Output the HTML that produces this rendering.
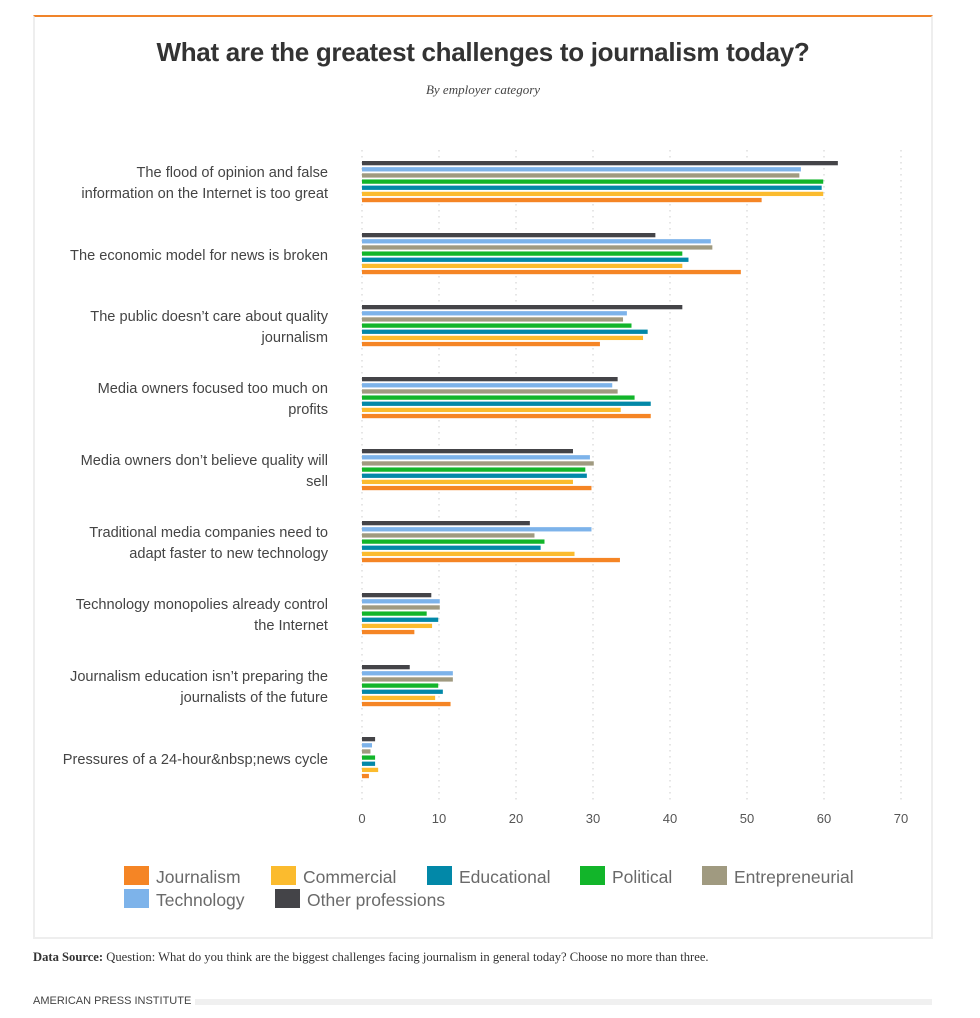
<!DOCTYPE html>
<html><head><meta charset="utf-8">
<style>
body{margin:0;width:980px;height:1018px;background:#fff;position:relative;font-family:"Liberation Sans",sans-serif;overflow:hidden}
.frame{position:absolute;left:33px;top:15px;width:896px;height:920px;border:2px solid #eee;border-top:2px solid #f0842a}
.title{position:absolute;left:0;width:966px;top:37px;text-align:center;font-size:26px;font-weight:bold;color:#333;letter-spacing:-0.3px}
.sub{position:absolute;left:0;width:966px;top:82px;text-align:center;font-family:"Liberation Serif",serif;font-style:italic;font-size:13px;color:#444}
.lab{position:absolute;right:652px;text-align:right;font-size:14.6px;line-height:21px;color:#444;white-space:nowrap}
.tick{position:absolute;top:811px;font-size:13px;color:#555;transform:translateX(-50%)}
.leg{position:absolute;font-size:17.5px;color:#6a6a6a}
.sw{position:absolute;width:25px;height:19px}
</style></head><body>
<div class="frame"></div>
<div class="title">What are the greatest challenges to journalism today?</div>
<div class="sub">By employer category</div>
<svg id="chart" width="980" height="1018" style="position:absolute;left:0;top:0"></svg>
<div id="labels"></div>
<div id="legend"></div>
<div style="position:absolute;left:33px;top:950px;font-family:'Liberation Serif',serif;font-size:12.6px;color:#333"><b>Data Source:</b> Question: What do you think are the biggest challenges facing journalism in general today? Choose no more than three.</div>
<div style="position:absolute;left:33px;top:995px;font-size:11px;color:#444">AMERICAN PRESS INSTITUTE</div>
<div style="position:absolute;left:195px;top:999px;width:737px;height:6px;background:#f0f0f0"></div>
<script>
const categories=["The flood of opinion and false|information on the Internet is too great","The economic model for news is broken","The public doesn’t care about quality|journalism","Media owners focused too much on|profits","Media owners don’t believe quality will|sell","Traditional media companies need to|adapt faster to new technology","Technology monopolies already control|the Internet","Journalism education isn’t preparing the|journalists of the future","Pressures of a 24-hour&amp;nbsp;news cycle"];
const seriesNames=["Other professions","Technology","Entrepreneurial","Political","Educational","Commercial","Journalism"];
const seriesColors=["#444448","#7db3ea","#a09a80","#12b52a","#0288a8","#fbbb2e","#f58525"];
const other=[61.8,38.1,41.6,33.2,27.4,21.8,9.0,6.2,1.7];
const technology=[57.0,45.3,34.4,32.5,29.6,29.8,10.1,11.8,1.3];
const entrepreneurial=[56.8,45.5,33.9,33.2,30.1,22.4,10.1,11.8,1.1];
const political=[59.9,41.6,35.0,35.4,29.0,23.7,8.4,9.9,1.7];
const educational=[59.7,42.4,37.1,37.5,29.2,23.2,9.9,10.5,1.7];
const commercial=[59.9,41.6,36.5,33.6,27.4,27.6,9.1,9.5,2.1];
const journalism=[51.9,49.2,30.9,37.5,29.8,33.5,6.8,11.5,0.9];
const ticks=[0,10,20,30,40,50,60,70];
const series=[other,technology,entrepreneurial,political,educational,commercial,journalism];
const x=v=>362+v*7.7;
const groupY=i=>161+i*72;
const svg=document.getElementById('chart');const NS="http://www.w3.org/2000/svg";
ticks.forEach(t=>{
  const l=document.createElementNS(NS,'line');
  
  
  l.setAttribute('x1',x(t));l.setAttribute('x2',x(t));l.setAttribute('y1',150);l.setAttribute('y2',800);
  l.setAttribute('stroke','#ccc');l.setAttribute('stroke-dasharray','1.5,4.5');
  svg.appendChild(l);
  const d=document.createElement('div');d.className='tick';d.style.left=x(t)+'px';d.textContent=t;
  
  
  document.body.appendChild(d);
});
categories.forEach((c,i)=>{
  series.forEach((s,j)=>{
    const r=document.createElementNS(NS,'rect');
    
    
    r.setAttribute('x',x(0));r.setAttribute('y',groupY(i)+j*6.15);
    r.setAttribute('width',Math.max(0,x(s[i])-x(0)));r.setAttribute('height',4.3);
    r.setAttribute('fill',seriesColors[j]);svg.appendChild(r);
  });
  const lines=c.split('|');const d=document.createElement('div');d.className='lab';
  
  
  d.innerHTML=lines.join('<br>');
  d.style.top=(groupY(i)+24-lines.length*10.5-1)+'px';
  document.getElementById('labels').appendChild(d);
});
const legendOrder=[6,5,4,3,2,1,0];
const legPos=[[124,866],[271,866],[427,866],[580,866],[702,866],[124,889],[275,889]];
legendOrder.forEach((k,n)=>{
  const [lx,ly]=legPos[n];
  const s=document.createElement('div');s.className='sw';s.style.left=lx+'px';s.style.top=ly+'px';s.style.background=seriesColors[k];
  
  
  document.body.appendChild(s);
  const t=document.createElement('div');t.className='leg';t.style.left=(lx+32)+'px';t.style.top=(ly+1)+'px';t.textContent=seriesNames[k];
  
  
  document.body.appendChild(t);
});
</script>
</body></html>
